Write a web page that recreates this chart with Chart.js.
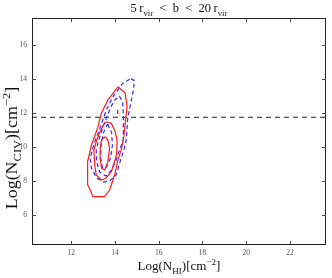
<!DOCTYPE html>
<html>
<head>
<meta charset="utf-8">
<script src="https://cdn.jsdelivr.net/npm/chart.js@4.4.0/dist/chart.umd.min.js"></script>
<style>
  html, body { margin: 0; padding: 0; background: #fff; }
  canvas { display: block; }
</style>
</head>
<body>
<canvas id="grafica" width="332" height="278"></canvas>
<script>
// Ejes
const xTicks = [12, 14, 16, 18, 20, 22];
const yTicks = [6, 8, 10, 12, 14, 16];
const xMin = 10.2, xMax = 23.65;
const yMin = 4.23, yMax = 17.6;
const corteCIV = 11.75;

// Contornos rojos (sólidos)
const rojoExtX = [14.13, 14.46, 14.55, 14.48, 14.40, 14.28, 14.13, 13.98, 13.75, 13.52, 12.99, 12.76, 12.73, 12.76, 12.92, 13.07, 13.22, 13.37, 13.67, 14.13];
const rojoExtY = [13.55, 13.19, 12.37, 11.59, 10.61, 9.82, 9.24, 8.35, 7.47, 7.08, 7.08, 7.76, 8.55, 9.14, 10.12, 10.65, 11.19, 11.98, 12.76, 13.55];
const rojoMedX = [13.60, 13.83, 14.01, 14.09, 14.07, 13.83, 13.57, 13.37, 13.14, 13.07, 13.03, 13.16, 13.29, 13.44, 13.60];
const rojoMedY = [11.49, 11.39, 10.90, 10.41, 9.53, 8.55, 8.15, 8.06, 8.35, 8.94, 9.82, 10.41, 10.82, 11.24, 11.49];
const rojoIntX = [13.55, 13.67, 13.75, 13.67, 13.52, 13.38, 13.31, 13.32, 13.38, 13.55];
const rojoIntY = [10.61, 10.41, 9.94, 9.14, 8.65, 8.76, 9.35, 9.94, 10.41, 10.61];
const rojoIslaX = [14.11, 14.13, 14.13, 14.11, 14.11];
const rojoIslaY = [12.20, 12.20, 11.95, 11.95, 12.20];

// Contornos azules (discontinuos)
const azulExtX = [14.73, 14.88, 14.84, 14.70, 14.58, 14.51, 14.43, 14.28, 14.05, 13.75, 13.48, 13.16, 12.92, 12.86, 12.98, 13.13, 13.29, 13.44, 13.60, 13.90, 14.35, 14.73];
const azulExtY = [14.04, 13.91, 13.35, 12.47, 11.71, 10.41, 9.94, 9.35, 8.35, 8.00, 7.94, 8.18, 8.76, 9.35, 9.94, 10.53, 11.00, 11.59, 12.18, 12.96, 13.75, 14.04];
const azulMedX = [14.20, 14.35, 14.38, 14.38, 14.20, 14.02, 13.84, 13.57, 13.29, 13.16, 13.14, 13.25, 13.43, 13.60, 13.83, 14.02, 14.20];
const azulMedY = [13.00, 12.65, 11.88, 10.41, 9.82, 9.12, 8.65, 8.29, 8.53, 9.12, 9.82, 10.41, 11.12, 11.71, 12.41, 12.82, 13.00];
const azulIntX = [13.66, 13.84, 13.88, 13.79, 13.61, 13.43, 13.34, 13.36, 13.48, 13.66];
const azulIntY = [11.35, 10.88, 10.12, 9.35, 8.82, 8.76, 9.35, 10.12, 10.88, 11.35];

const SERIF = '"Liberation Serif", "DejaVu Serif", serif';

function puntos(xs, ys) {
  return xs.map((x, i) => ({ x, y: ys[i] }));
}

function contorno(xs, ys, color, dash) {
  return {
    data: puntos(xs, ys),
    showLine: true,
    pointRadius: 0,
    borderColor: color,
    borderWidth: 1.2,
    borderDash: dash,
    fill: false,
    tension: 0
  };
}

// texto con subíndices (-1) y superíndices (1), centrado en x
function textoRico(ctx, partes, x, y, size) {
  let w = 0;
  partes.forEach(p => {
    ctx.font = (p[1] ? size * 0.7 : size) + 'px ' + SERIF;
    w += ctx.measureText(p[0]).width;
  });
  let cx = x - w / 2;
  partes.forEach(p => {
    const s = p[1] ? size * 0.7 : size;
    ctx.font = s + 'px ' + SERIF;
    const dy = p[1] === -1 ? size * 0.28 : p[1] === 1 ? -size * 0.42 : 0;
    ctx.fillText(p[0], cx, y + dy);
    cx += ctx.measureText(p[0]).width;
  });
}

const marcoPlugin = {
  id: 'marco',
  afterDraw(chart) {
    const { ctx, chartArea: a, scales: { x, y } } = chart;
    ctx.save();
    ctx.strokeStyle = '#222';
    ctx.lineWidth = 1;
    ctx.strokeRect(a.left + 0.5, a.top + 0.5, a.right - a.left - 1, a.bottom - a.top - 1);
    // ticks hacia dentro en los cuatro lados
    ctx.strokeStyle = '#444';
    ctx.beginPath();
    xTicks.forEach(v => {
      const px = Math.round(x.getPixelForValue(v)) + 0.5;
      ctx.moveTo(px, a.bottom); ctx.lineTo(px, a.bottom - 4);
      ctx.moveTo(px, a.top); ctx.lineTo(px, a.top + 4);
    });
    yTicks.forEach(v => {
      const py = Math.round(y.getPixelForValue(v)) + 0.5;
      ctx.moveTo(a.left, py); ctx.lineTo(a.left + 4, py);
      ctx.moveTo(a.right, py); ctx.lineTo(a.right - 4, py);
    });
    ctx.stroke();

    ctx.fillStyle = '#111';
    ctx.textBaseline = 'alphabetic';
    const cx = (a.left + a.right) / 2;
    textoRico(ctx, [['5\u2009r', 0], ['vir', -1], ['  <  b  <  20\u2009r', 0], ['vir', -1]], cx, 12, 12.5);
    textoRico(ctx, [['Log(N', 0], ['HI', -1], [')[cm', 0], ['\u22122', 1], [']', 0]], cx, 270, 13);
    ctx.translate(17, 148);
    ctx.rotate(-Math.PI / 2);
    ctx.scale(1.12, 1);
    textoRico(ctx, [['Log(N', 0], ['CIV', -1], [')[cm', 0], ['\u22122', 1], [']', 0]], 0, 0, 16);
    ctx.restore();
  }
};

const datasets = [
  contorno(rojoExtX, rojoExtY, '#ff1a1a', []),
  contorno(rojoMedX, rojoMedY, '#ff1a1a', []),
  contorno(rojoIntX, rojoIntY, '#ff1a1a', []),
  contorno(rojoIslaX, rojoIslaY, '#ff1a1a', []),
  contorno(azulExtX, azulExtY, '#2b2bff', [4, 3]),
  contorno(azulMedX, azulMedY, '#2b2bff', [4, 3]),
  contorno(azulIntX, azulIntY, '#2b2bff', [4, 3]),
  {
    data: [{ x: xMin, y: corteCIV }, { x: xMax, y: corteCIV }],
    showLine: true, pointRadius: 0, borderColor: '#222', borderWidth: 1.1,
    borderDash: [5, 4], fill: false
  }
];

const tickFont = { family: SERIF, size: 7.5 };

new Chart(document.getElementById('grafica'), {
  type: 'scatter',
  data: { datasets },
  plugins: [marcoPlugin],
  options: {
    responsive: false,
    animation: false,
    layout: { padding: { left: 0, right: 6, top: 18, bottom: 0 } },
    plugins: { legend: { display: false }, tooltip: { enabled: false } },
    scales: {
      x: {
        type: 'linear', min: xMin, max: xMax,
        afterBuildTicks: s => { s.ticks = xTicks.map(v => ({ value: v })); },
        afterFit: s => { s.height = 33; },
        grid: { display: false, drawTicks: false },
        border: { display: false },
        ticks: { font: tickFont, color: '#555', padding: 4, maxRotation: 0 }
      },
      y: {
        type: 'linear', min: yMin, max: yMax,
        afterBuildTicks: s => { s.ticks = yTicks.map(v => ({ value: v })); },
        afterFit: s => { s.width = 32; },
        grid: { display: false, drawTicks: false },
        border: { display: false },
        ticks: { font: tickFont, color: '#555', padding: 5 }
      }
    }
  }
});
</script>
</body>
</html>
